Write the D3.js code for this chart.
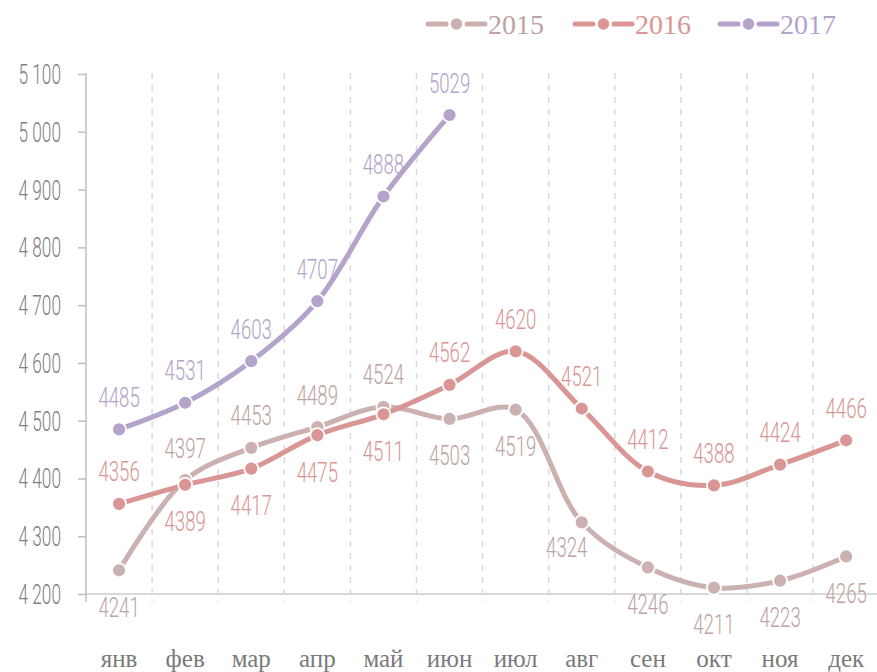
<!DOCTYPE html>
<html>
<head>
<meta charset="utf-8">
<script src="https://cdn.jsdelivr.net/npm/d3@7/dist/d3.min.js"></script>
<style>
  html, body { margin: 0; padding: 0; background: #fff; }
  svg { display: block; }
</style>
</head>
<body>
<svg id="chart" width="877" height="672"></svg>
<script>
// ---- data ----
const months = ["янв","фев","мар","апр","май","июн","июл","авг","сен","окт","ноя","дек"];
const seriesNames = ["2015","2016","2017"];
const values2015 = [4241,4397,4453,4489,4524,4503,4519,4324,4246,4211,4223,4265];
const values2016 = [4356,4389,4417,4475,4511,4562,4620,4521,4412,4388,4424,4466];
const values2017 = [4485,4531,4603,4707,4888,5029];
const labelSide2015 = ["b","t","t","t","t","b","b","bl","b","b","b","b"];
const labelSide2016 = ["t","b","b","b","b","t","t","t","t","t","t","t"];
const labelSide2017 = ["t","t","t","t","t","t"];
const yTicks = [4200,4300,4400,4500,4600,4700,4800,4900,5000,5100];

// ---- styles ----
const lineColors = {"2015":"#cbb2b0","2016":"#d99694","2017":"#b4a3cb"};
const labelColors = {"2015":"#bda3a1","2016":"#d99694","2017":"#b4a3cb"};
const numFont = "Roboto,'DejaVu Sans Condensed',sans-serif";
const serifFont = "'Liberation Serif','Times New Roman',serif";

const svg = d3.select("#chart");
const plotLeft = 86, bandW = 66.1, yTop = 74, yBottom = 594;

const x = d3.scaleBand().domain(months).range([plotLeft, plotLeft + bandW * months.length]).padding(0);
const y = d3.scaleLinear().domain([4200, 5100]).range([yBottom, yTop]);
const cx = m => x(m) + x.bandwidth() / 2;

const loc = d3.formatLocale({decimal: ",", thousands: "\u00a0", grouping: [3], currency: ["", ""]});
const fmt = loc.format(",");

// gridlines (dashed, between categories)
svg.append("g").selectAll("line")
  .data(months.slice(1))
  .join("line")
  .attr("x1", d => x(d)).attr("x2", d => x(d))
  .attr("y1", 73).attr("y2", 602)
  .attr("stroke", "#d9d9d9").attr("stroke-width", 1.5)
  .attr("stroke-dasharray", "6,6");

// x axis line
svg.append("line")
  .attr("x1", plotLeft).attr("x2", 877)
  .attr("y1", yBottom).attr("y2", yBottom)
  .attr("stroke", "#d9d9d9").attr("stroke-width", 2);

// y axis
const yAxis = d3.axisLeft(y).tickValues(yTicks).tickSize(8).tickPadding(0).tickFormat(fmt);
const yg = svg.append("g").attr("transform", `translate(${plotLeft},0)`).call(yAxis);
yg.select(".domain").remove();
yg.selectAll(".tick line").attr("stroke", "#bfbfbf").attr("stroke-width", 1.5);
yg.selectAll(".tick text").remove();
yg.append("line").attr("x1", 0).attr("x2", 0).attr("y1", yTop - 1).attr("y2", 602)
  .attr("stroke", "#bfbfbf").attr("stroke-width", 1.5);
yg.selectAll(".tick").append("g")
  .attr("transform", "translate(-25,9.5) scale(0.64,1)")
  .append("text")
  .attr("text-anchor", "end")
  .attr("fill", "#808080")
  .style("font-family", numFont)
  .style("font-weight", 300)
  .style("font-size", "27px")
  .text(d => fmt(d));

// x labels
svg.append("g").selectAll("text")
  .data(months)
  .join("text")
  .attr("x", d => cx(d)).attr("y", 667)
  .attr("text-anchor", "middle")
  .attr("fill", "#7a7a7a")
  .style("font-family", serifFont)
  .style("font-size", "25px")
  .text(d => d);

// series
const series = [
  {name: "2015", values: values2015, sides: labelSide2015},
  {name: "2016", values: values2016, sides: labelSide2016},
  {name: "2017", values: values2017, sides: labelSide2017}
];

const line = d3.line()
  .x((d, i) => cx(months[i]))
  .y(d => y(d))
  .curve(d3.curveCatmullRom.alpha(0.5));

const linesG = svg.append("g");
series.forEach(s => {
  const g = linesG.append("g");
  g.append("path")
    .datum(s.values)
    .attr("d", line)
    .attr("fill", "none")
    .attr("stroke", lineColors[s.name])
    .attr("stroke-width", 5)
    .attr("stroke-linecap", "round");
  g.selectAll("circle")
    .data(s.values)
    .join("circle")
    .attr("cx", (d, i) => cx(months[i]))
    .attr("cy", d => y(d))
    .attr("r", 7)
    .attr("fill", lineColors[s.name])
    .attr("stroke", "#fff")
    .attr("stroke-width", 1.8);
});

// data labels
const labelsG = svg.append("g");
series.forEach(s => {
  labelsG.selectAll(null)
    .data(s.values)
    .join("g")
    .attr("transform", (d, i) => {
      const side = s.sides[i];
      let px = cx(months[i]), py = y(d);
      if (side === "t") py = py - 32;
      else if (side === "b") py = py + 37;
      else if (side === "bl") { px = px - 15; py = py + 25; }
      return `translate(${px},${py + 9.5}) scale(0.69,1)`;
    })
    .append("text")
    .attr("text-anchor", "middle")
    .attr("fill", labelColors[s.name])
    .style("font-family", numFont)
    .style("font-weight", 300)
    .style("font-size", "27px")
    .text(d => d);
});

// legend
const legendItems = [
  {name: "2015", x0: 428},
  {name: "2016", x0: 575},
  {name: "2017", x0: 720}
];
const lg = svg.append("g");
legendItems.forEach(it => {
  const g = lg.append("g").attr("transform", `translate(${it.x0},24)`);
  g.append("line").attr("x1", 0).attr("x2", 18).attr("y1", 0).attr("y2", 0)
    .attr("stroke", lineColors[it.name]).attr("stroke-width", 5).attr("stroke-linecap", "round");
  g.append("line").attr("x1", 39).attr("x2", 57).attr("y1", 0).attr("y2", 0)
    .attr("stroke", lineColors[it.name]).attr("stroke-width", 5).attr("stroke-linecap", "round");
  g.append("circle").attr("cx", 28.5).attr("cy", 0).attr("r", 6.5)
    .attr("fill", lineColors[it.name]).attr("stroke", "#fff").attr("stroke-width", 1.5);
  g.append("text").attr("x", 60).attr("y", 10)
    .attr("fill", labelColors[it.name])
    .style("font-family", serifFont)
    .style("font-size", "28px")
    .text(it.name);
});
</script>
</body>
</html>
